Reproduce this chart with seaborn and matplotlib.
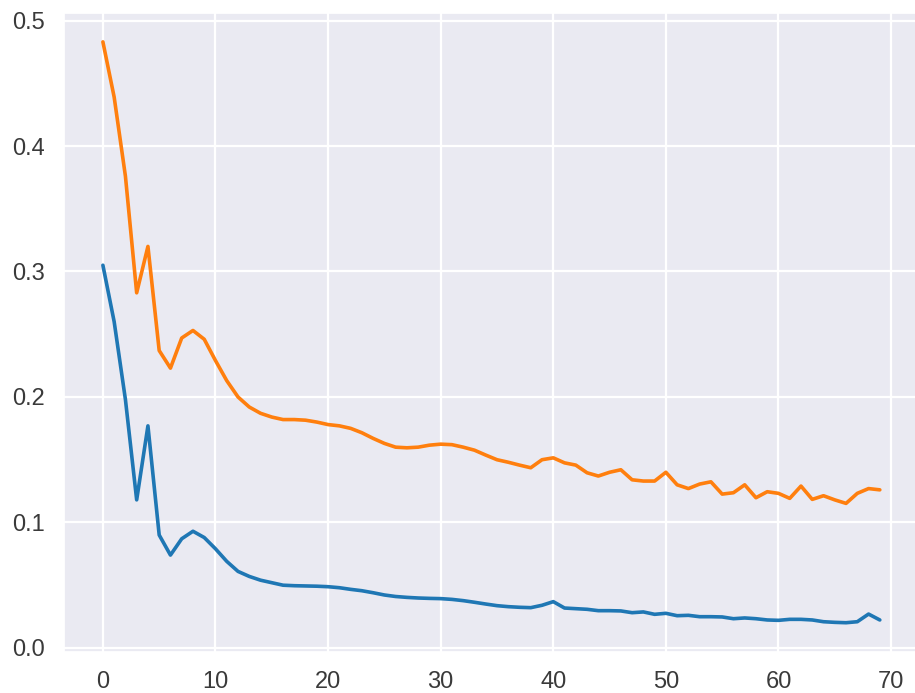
import numpy as np
import pandas as pd
import matplotlib.pyplot as plt
import seaborn as sns

sns.set_theme(style='darkgrid')
plt.rcParams['font.family'] = ['Liberation Sans', 'DejaVu Sans']

epochs = list(range(70))

train_loss = [0.305, 0.260, 0.198, 0.118, 0.177, 0.090, 0.074, 0.087, 0.093, 0.088,
              0.079, 0.069, 0.061, 0.057, 0.054, 0.052, 0.050, 0.0496, 0.0494, 0.0492,
              0.0488, 0.048, 0.0467, 0.0456, 0.044, 0.0422, 0.041, 0.0403, 0.0398, 0.0395,
              0.0393, 0.0387, 0.0377, 0.0364, 0.035, 0.0337, 0.0329, 0.0324, 0.0321, 0.034,
              0.0369, 0.0318, 0.0313, 0.0308, 0.0297, 0.0297, 0.0295, 0.0281, 0.0287, 0.0268,
              0.0276, 0.0257, 0.026, 0.0249, 0.0249, 0.0247, 0.0233, 0.0239, 0.0233, 0.0223,
              0.022, 0.0228, 0.0228, 0.0223, 0.0209, 0.0204, 0.0201, 0.0209, 0.027, 0.0223]

val_loss = [0.483, 0.439, 0.376, 0.283, 0.320, 0.237, 0.223, 0.247, 0.253, 0.246,
            0.229, 0.213, 0.200, 0.192, 0.187, 0.184, 0.182, 0.182, 0.1815, 0.180,
            0.178, 0.177, 0.175, 0.1715, 0.167, 0.163, 0.160, 0.1595, 0.160, 0.1616,
            0.1624, 0.162, 0.160, 0.1576, 0.1537, 0.150, 0.148, 0.1457, 0.1436, 0.150,
            0.1515, 0.1475, 0.1457, 0.1396, 0.137, 0.140, 0.142, 0.134, 0.133, 0.133,
            0.140, 0.130, 0.127, 0.1306, 0.1324, 0.1226, 0.1237, 0.130, 0.1197, 0.1245,
            0.1232, 0.1192, 0.129, 0.1184, 0.1213, 0.118, 0.1152, 0.1232, 0.127, 0.126]

df = pd.DataFrame({'epoch': epochs, 'train': train_loss, 'val': val_loss})

fig = plt.figure(figsize=(9.15, 6.93), dpi=100)
ax = fig.add_axes([0.070, 0.0595, 0.934, 0.922])
sns.lineplot(data=df, x='epoch', y='train', ax=ax, linewidth=2.6, color='#1f77b4')
sns.lineplot(data=df, x='epoch', y='val', ax=ax, linewidth=2.6, color='#ff7f0e')
ax.set_xlabel('')
ax.set_ylabel('')
ax.set_yticks([0.0, 0.1, 0.2, 0.3, 0.4, 0.5])
ax.set_xticks([0, 10, 20, 30, 40, 50, 60, 70])
ax.tick_params(labelsize=17, colors='#3a3a3a', pad=8)
ax.grid(linewidth=1.6)
fig.savefig('out.png', dpi=100)
